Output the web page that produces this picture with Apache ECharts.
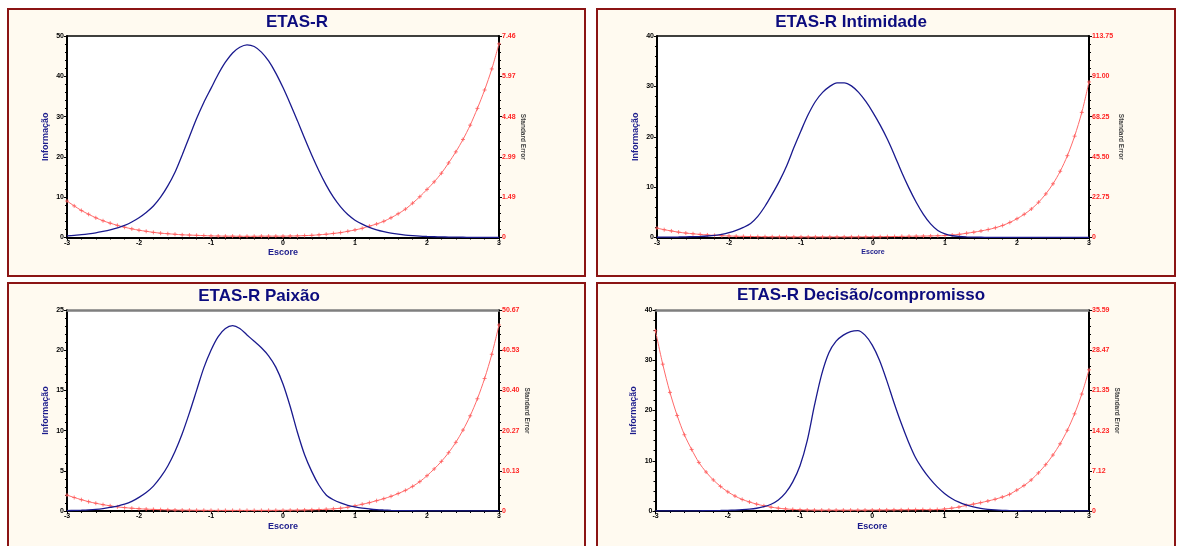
<!DOCTYPE html>
<html>
<head>
<meta charset="utf-8">
<script src="https://cdn.jsdelivr.net/npm/echarts@6/dist/echarts.min.js"></script>
<style>
html,body{margin:0;padding:0;background:#fff;}
#chart{width:1178px;height:546px;}
</style>
</head>
<body>
<div id="chart"></div>
<script>
// ---- DATA ----
const xs = [-3.0,-2.9,-2.8,-2.7,-2.6,-2.5,-2.4,-2.3,-2.2,-2.1,-2.0,-1.9,-1.8,-1.7,-1.6,-1.5,-1.4,-1.3,-1.2,-1.1,
  -1.0,-0.9,-0.8,-0.7,-0.6,-0.5,-0.4,-0.3,-0.2,-0.1,0.0,0.1,0.2,0.3,0.4,0.5,0.6,0.7,0.8,0.9,
  1.0,1.1,1.2,1.3,1.4,1.5,1.6,1.7,1.8,1.9,2.0,2.1,2.2,2.3,2.4,2.5,2.6,2.7,2.8,2.9,3.0];
const xTickLabels = ['-3','-2','-1','0','1','2','3'];

const titles = ['ETAS-R','ETAS-R Intimidade','ETAS-R Paixão','ETAS-R Decisão/compromisso'];
const infoName = 'Informação';
const seName = 'Standard Error';
const xName = 'Escore';

// Information curves (left axis)
const info1 = [0.4,0.55,0.7,0.9,1.15,1.5,1.9,2.4,3.0,3.85,4.9,6.2,7.8,10.0,12.8,16.2,20.5,25.0,29.5,33.5,
  37.0,40.5,43.5,45.8,47.2,47.8,47.4,46.0,43.8,40.8,37.2,33.2,29.0,24.6,20.4,16.5,13.0,10.0,7.6,5.7,
  4.3,3.3,2.5,1.9,1.45,1.1,0.82,0.6,0.45,0.33,0.25,0.19,0.14,0.1,0.08,0.06,0.05,0.04,0.03,0.02,0.02];
const info2 = [0.05,0.06,0.08,0.1,0.13,0.17,0.22,0.3,0.42,0.62,0.95,1.4,2.0,2.8,4.2,6.2,8.6,11.2,14.2,17.8,
  21.2,24.4,27.0,28.8,30.0,30.7,30.7,30.1,28.8,27.0,24.8,22.3,19.5,16.3,12.9,9.8,7.0,4.6,2.7,1.4,
  0.7,0.35,0.2,0.12,0.07,0.05,0.04,0.03,0.02,0.02,0.01,0.01,0.01,0.01,0.01,0.01,0.01,0.01,0.01,0.01,0.01];
const info3 = [0.05,0.07,0.1,0.14,0.2,0.3,0.45,0.62,0.85,1.2,1.7,2.3,3.1,4.2,5.6,7.4,9.6,12.2,15.0,17.8,
  20.0,21.7,22.7,23.05,22.7,21.9,21.1,20.3,19.3,17.9,15.8,13.0,9.8,7.0,4.9,3.2,2.0,1.4,1.0,0.7,
  0.5,0.35,0.25,0.17,0.12,0.08,0.05,0.04,0.03,0.02,0.01,0.01,0.01,0.01,0.01,0.01,0.01,0.01,0.01,0.01,0.01];
const info4 = [0.01,0.01,0.01,0.02,0.02,0.03,0.04,0.06,0.08,0.1,0.14,0.19,0.26,0.37,0.55,0.85,1.35,2.2,3.6,5.8,
  9.0,14.0,21.0,27.2,31.5,33.8,35.0,35.7,35.9,35.0,33.0,30.0,26.0,21.6,17.5,13.8,10.6,8.3,6.4,4.8,
  3.5,2.5,1.75,1.2,0.8,0.52,0.34,0.22,0.14,0.09,0.06,0.04,0.03,0.02,0.01,0.01,0.01,0.01,0.01,0.01,0.01];

// Standard error curves (right axis)
const se1 = [1.35,1.17,1.0,0.86,0.73,0.62,0.53,0.45,0.38,0.32,0.27,0.23,0.19,0.16,0.14,0.12,0.1,0.09,0.08,0.07,
  0.06,0.055,0.05,0.05,0.045,0.045,0.045,0.05,0.05,0.05,0.05,0.055,0.06,0.07,0.08,0.1,0.12,0.15,0.18,0.23,
  0.28,0.34,0.42,0.5,0.6,0.73,0.88,1.05,1.27,1.51,1.78,2.06,2.38,2.76,3.17,3.63,4.16,4.78,5.46,6.24,7.17];
const se2 = [5.3,4.4,3.7,3.0,2.5,2.1,1.75,1.45,1.2,1.0,0.85,0.72,0.62,0.55,0.5,0.45,0.42,0.4,0.38,0.36,
  0.35,0.35,0.35,0.35,0.35,0.35,0.35,0.36,0.38,0.4,0.42,0.45,0.5,0.55,0.62,0.7,0.75,0.8,0.88,0.98,
  1.1,1.4,1.8,2.4,3.0,3.7,4.5,5.5,6.8,8.5,10.6,13.1,16.1,19.9,24.6,30.3,37.4,46.2,57.2,70.6,87.8];
const se3 = [4.0,3.4,2.85,2.35,1.95,1.6,1.3,1.05,0.85,0.7,0.57,0.47,0.4,0.34,0.29,0.25,0.22,0.2,0.18,0.17,
  0.16,0.15,0.15,0.15,0.15,0.15,0.15,0.15,0.16,0.17,0.18,0.2,0.22,0.26,0.3,0.36,0.44,0.55,0.7,0.95,
  1.3,1.7,2.1,2.6,3.1,3.7,4.4,5.2,6.2,7.4,8.9,10.6,12.5,14.7,17.3,20.4,24.0,28.3,33.4,39.5,46.9];
const se4 = [31.9,26.0,21.0,16.9,13.5,10.9,8.6,6.9,5.5,4.35,3.4,2.65,2.05,1.6,1.22,0.92,0.68,0.5,0.37,0.28,
  0.22,0.18,0.16,0.15,0.15,0.15,0.15,0.15,0.15,0.16,0.17,0.18,0.19,0.2,0.21,0.22,0.23,0.25,0.22,0.26,
  0.35,0.5,0.7,0.98,1.22,1.47,1.77,2.08,2.47,2.95,3.7,4.5,5.5,6.75,8.2,9.9,11.9,14.3,17.2,20.7,25.0];

// Axis ranges and tick labels
const infoMax = [50, 40, 25, 40];
const infoStep = [10, 10, 5, 10];
const seMax = [7.46, 113.75, 50.67, 35.59];
const seTicks1 = ['0','1.49','2.99','4.48','5.97','7.46'];
const seTicks2 = ['0','22.75','45.50','68.25','91.00','113.75'];
const seTicks3 = ['0','10.13','20.27','30.40','40.53','50.67'];
const seTicks4 = ['0','7.12','14.23','21.35','28.47','35.59'];

// ---- LAYOUT ----
const FONT = '"Liberation Sans", Arial, Helvetica, sans-serif';
const layout = [
  {frame:[8,9,577,267], grid:[67,36,432,201.5], tx:297, ty:22, escore:9, topColor:'#000', topW:1.5},
  {frame:[597,9,578,267], grid:[657,36,432,201.5], tx:851, ty:22, escore:7, topColor:'#000', topW:1.5},
  {frame:[8,283,577,280], grid:[67,310,432,201], tx:259, ty:296, escore:9, topColor:'#7f7f7f', topW:2.5},
  {frame:[597,283,578,280], grid:[655.5,310,433.5,201], tx:861, ty:295, escore:9, topColor:'#7f7f7f', topW:2.5}
];
const infos = [info1, info2, info3, info4];
const ses = [se1, se2, se3, se4];
const seTickSets = [seTicks1, seTicks2, seTicks3, seTicks4];

const option = {animation:false, graphic:[], grid:[], xAxis:[], yAxis:[], series:[]};
const crossSymbol = 'path://M0,2L4,2M2,0L2,4';

layout.forEach((L, i) => {
  option.graphic.push({type:'rect', z:-10, shape:{x:L.frame[0], y:L.frame[1], width:L.frame[2], height:L.frame[3]},
    style:{fill:'#FFFAF0', stroke:'#8B1414', lineWidth:2}});
  option.graphic.push({type:'text', z:10, x:L.tx, y:L.ty,
    style:{text:titles[i], font:'bold 17px ' + FONT, fill:'#0C0C7E', textAlign:'center', textVerticalAlign:'middle'}});
  option.grid.push({left:L.grid[0], top:L.grid[1], width:L.grid[2], height:L.grid[3], show:true, backgroundColor:'#ffffff', borderWidth:0});
  option.xAxis.push({
    type:'value', gridIndex:i, position:'bottom', min:-3, max:3, interval:1,
    name:xName, nameLocation:'middle', nameGap:11,
    nameTextStyle:{color:'#1C1C8C', fontWeight:'bold', fontSize:L.escore, fontFamily:FONT},
    axisLine:{onZero:false, lineStyle:{color:'#000', width:2}},
    axisTick:{show:true, length:3, lineStyle:{color:'#000', width:1}},
    minorTick:{show:true, splitNumber:5, length:2, lineStyle:{color:'#000', width:1}},
    axisLabel:{margin:2, fontSize:7, fontWeight:'bold', color:'#000', fontFamily:FONT,
      formatter:(v)=>xTickLabels[Math.round(v + 3)]},
    splitLine:{show:false}
  });
  option.xAxis.push({
    type:'value', gridIndex:i, position:'top', min:-3, max:3,
    axisLine:{onZero:false, lineStyle:{color:L.topColor, width:L.topW}},
    axisTick:{show:false}, axisLabel:{show:false}, splitLine:{show:false}
  });
  option.yAxis.push({
    type:'value', gridIndex:i, position:'left', min:0, max:infoMax[i], interval:infoStep[i],
    name:infoName, nameLocation:'middle', nameGap:17,
    nameTextStyle:{color:'#1C1C8C', fontWeight:'bold', fontSize:9, fontFamily:FONT},
    axisLine:{show:true, onZero:false, lineStyle:{color:'#000', width:2}},
    axisTick:{show:true, length:3, lineStyle:{color:'#000', width:1}},
    minorTick:{show:true, splitNumber:5, length:2, lineStyle:{color:'#000', width:1}},
    axisLabel:{margin:3, fontSize:7, fontWeight:'bold', color:'#000', fontFamily:FONT},
    splitLine:{show:false}
  });
  const step = seMax[i] / 5;
  const ticks = seTickSets[i];
  option.yAxis.push({
    type:'value', gridIndex:i, position:'right', min:0, max:seMax[i], interval:step,
    name:seName, nameLocation:'middle', nameGap:20, nameRotate:-90,
    nameTextStyle:{color:'#444', fontWeight:'bold', fontSize:6.5, fontFamily:FONT},
    axisLine:{show:true, onZero:false, lineStyle:{color:'#000', width:2}},
    axisTick:{show:true, length:3, lineStyle:{color:'#000', width:1}},
    minorTick:{show:true, splitNumber:5, length:2, lineStyle:{color:'#000', width:1}},
    axisLabel:{margin:3, fontSize:7, fontWeight:'bold', color:'#FF2424', fontFamily:FONT,
      formatter:(v)=>ticks[Math.round(v / step)]},
    splitLine:{show:false}
  });
  option.series.push({
    type:'line', xAxisIndex:2*i, yAxisIndex:2*i, smooth:0.3, showSymbol:false,
    data: xs.map((x,k)=>[x, infos[i][k]]),
    lineStyle:{color:'#1A1A8E', width:1.3}, z:3
  });
  option.series.push({
    type:'line', xAxisIndex:2*i, yAxisIndex:2*i+1, smooth:0.3, showSymbol:true,
    symbol:crossSymbol, symbolSize:4,
    data: xs.map((x,k)=>[x, ses[i][k]]),
    lineStyle:{color:'#FF6A6A', width:1},
    itemStyle:{color:'#FF5A5A', borderColor:'#FF5A5A', borderWidth:0.8}, z:2
  });
});

const chart = echarts.init(document.getElementById('chart'), null, {renderer:'canvas'});
chart.setOption(option);
</script>
</body>
</html>
